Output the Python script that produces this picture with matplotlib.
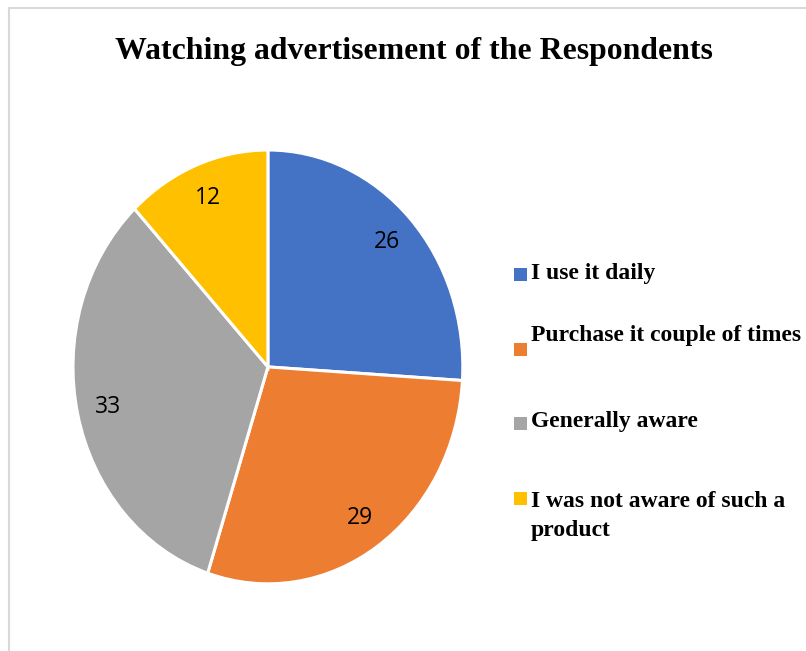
import numpy as np
import matplotlib.pyplot as plt
from matplotlib.patches import Rectangle

# survey answers
labels = ['I use it daily', 'Purchase it couple of times', 'Generally aware',
          'I was not aware of such a\nproduct']
values = [26, 29, 33, 12]
colors = ['#4472C4', '#ED7D31', '#A5A5A5', '#FFC000']
title = 'Watching advertisement of the Respondents'

fig = plt.figure(figsize=(8.06, 6.51), dpi=100)
fig.patch.set_facecolor('white')

# light grey chart frame (left and top edges show)
fig.add_artist(Rectangle((9/806, -0.1), 1.2, 1 - 8/651 + 0.1, transform=fig.transFigure,
                         fill=False, edgecolor='#d9d9d9', linewidth=1.5))

ax = fig.add_axes([0.0664, 0.0699, 0.532, 0.733])
total = sum(values)
wedges, texts, autotexts = ax.pie(values, colors=colors, startangle=90, counterclock=False,
                                  wedgeprops=dict(edgecolor='white', linewidth=2.2),
                                  autopct=lambda p: f'{p*total/100:.0f}', pctdistance=0.84,
                                  textprops=dict(fontsize=16.5, family='Open Sans', color='black'))
ax.set_aspect('auto')
ax.set_xlim(-1.1, 1.1)
ax.set_ylim(-1.1, 1.1)

fig.text(0.514, 1 - 51/651, title, ha='center', va='center',
         family='Liberation Serif', fontweight='bold', fontsize=22.9)

# legend, placed by hand
text_y = [274, 336, 422, 516]
mark_y = [274, 349, 423, 498]
for lab, col, ty, my in zip(labels, colors, text_y, mark_y):
    fig.add_artist(Rectangle((514/806, 1 - (my + 6.5)/651), 13/806, 13/651,
                             transform=fig.transFigure, facecolor=col, edgecolor='none'))
    fig.text(531/806, 1 - ty/651, lab, ha='left', va='center',
             family='Liberation Serif', fontweight='bold', fontsize=17, linespacing=1.5)

plt.savefig('out.png', dpi=100)
